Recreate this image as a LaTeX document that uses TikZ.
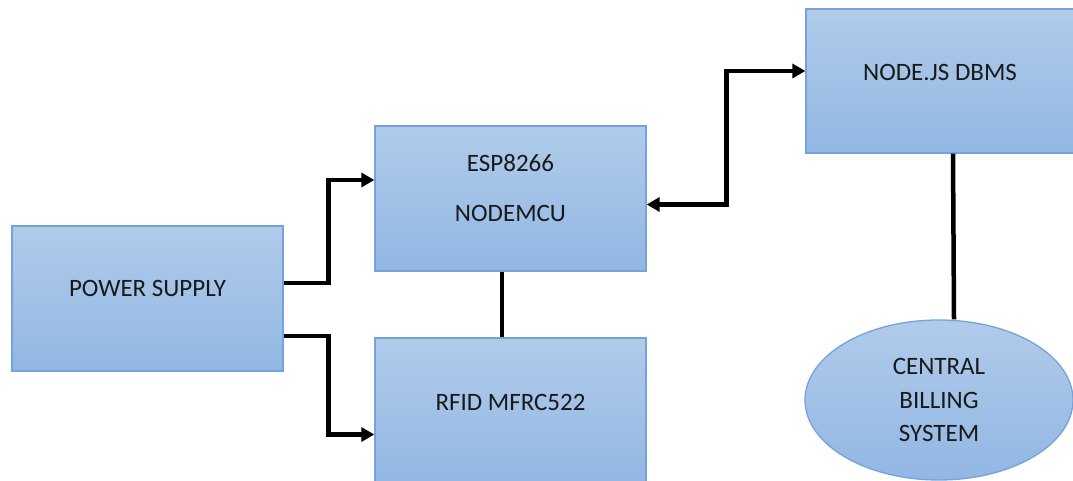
\documentclass[tikz,border=0pt]{standalone}
\usepackage{fontspec}
\setmainfont{Carlito}
\usetikzlibrary{arrows.meta,shapes.geometric}
\definecolor{boxtop}{RGB}{176,203,234}
\definecolor{boxbot}{RGB}{146,183,227}
\definecolor{boxline}{RGB}{117,163,217}
\tikzset{
  blockbox/.style={rectangle, draw=boxline, line width=1.3pt, top color=boxtop, bottom color=boxbot, inner sep=0pt},
  blocktext/.style={font=\fontsize{25}{30}\selectfont, text=black!90},
  conn/.style={line width=4.5pt, draw=black},
  arr/.style={conn, -{Triangle[length=13pt,width=14pt]}},
  biarr/.style={conn, {Triangle[length=13pt,width=14pt]}-{Triangle[length=13pt,width=14pt]}},
}
\begin{document}
\begin{tikzpicture}[x=1pt,y=-1pt]
\useasboundingbox (0,0) rectangle (1073,481);
% boxes
\node[blockbox, minimum width=271pt, minimum height=145pt] (ps) at (147.5,298.5) {};
\node[blockbox, minimum width=271pt, minimum height=145pt] (esp) at (510.5,198.5) {};
\node[blockbox, minimum width=271pt, minimum height=145pt] (rfid) at (510.5,410.5) {};
\node[blockbox, minimum width=268pt, minimum height=144pt] (js) at (940,81) {};
\node[ellipse, draw=boxline, line width=1.3pt, top color=boxtop, bottom color=boxbot, inner sep=0pt, minimum width=268pt, minimum height=160pt] (cbs) at (939,400) {};
% texts
\node[blocktext] (pst) at (147.5,288) {POWER SUPPLY};
\node[blocktext] (espt1) at (510.5,163) {ESP8266};
\node[blocktext] (espt2) at (510.5,213) {NODEMCU};
\node[blocktext] (rfidt) at (510.5,402) {RFID MFRC522};
\node[blocktext] (jst) at (940,72) {NODE.JS DBMS};
\node[blocktext, align=center, font=\fontsize{25}{33.5}\selectfont] (cbst) at (939,400) {CENTRAL\\BILLING\\SYSTEM};
% connectors
\draw[arr] ([yshift=15.5pt]ps.east) -- ++(45,0) |- ([yshift=18.5pt]esp.west);
\draw[arr] ([yshift=-37.5pt]ps.east) -- ++(45,0) |- ([yshift=-24pt]rfid.west);
\draw[biarr] ([yshift=-6pt]esp.east) -- ++(80,0) |- ([yshift=10pt]js.west);
\draw[conn] ([xshift=-8.5pt]esp.south) -- ([xshift=-8.5pt]rfid.north);
\draw[conn] ([xshift=13pt]js.south) -- ([xshift=14pt]js.south |- cbs.north);
\end{tikzpicture}
\end{document}
